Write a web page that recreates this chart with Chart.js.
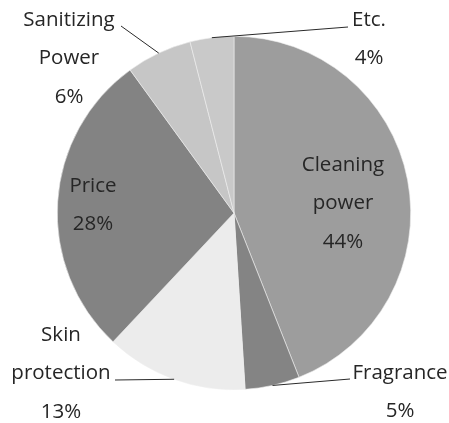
<!DOCTYPE html>
<html>
<head>
<meta charset="utf-8">
<script src="https://cdn.jsdelivr.net/npm/chart.js@4.4.1/dist/chart.umd.min.js"></script>
<style>
  html, body { margin: 0; padding: 0; background: #ffffff; }
  #wrap { width: 449px; height: 423px; }
</style>
</head>
<body>
<div id="wrap"><canvas id="pie-chart" width="449" height="423"></canvas></div>
<script>
const categories = ['Cleaning power', 'Fragrance', 'Skin protection', 'Price', 'Sanitizing Power', 'Etc.']
const shares = [44, 5, 13, 28, 6, 4]
const sliceColors = ['#9d9d9d', '#848484', '#ececec', '#838383', '#c6c6c6', '#c9c9c9']

// label text lines, placement and leader line end (null = label sits inside slice)
const labelLayout = [
  { lines: ['Cleaning', 'power'], x: 343, y: 165, line: null },
  { lines: ['Fragrance'], x: 400, y: 373, line: [350, 379] },
  { lines: ['Skin', 'protection'], x: 61, y: 335, line: [115, 380] },
  { lines: ['Price'], x: 93, y: 186, line: null },
  { lines: ['Sanitizing', 'Power'], x: 69, y: 20, line: [121, 26] },
  { lines: ['Etc.'], x: 369, y: 20, line: [348, 27] }
]

const lineGap = 38.5
const labelFont = '20.5px "Open Sans", sans-serif'

const labelPlugin = {
  id: 'sliceLabels',
  afterDatasetsDraw (chart) {
    const ctx = chart.ctx
    const arcs = chart.getDatasetMeta(0).data
    ctx.save()
    arcs.forEach((arc, i) => {
      const layout = labelLayout[i]
      const p = arc.getProps(['x', 'y', 'startAngle', 'endAngle', 'outerRadius'], true)
      if (layout.line) {
        const mid = (p.startAngle + p.endAngle) / 2
        const sx = p.x + Math.cos(mid) * p.outerRadius
        const sy = p.y + Math.sin(mid) * p.outerRadius
        ctx.strokeStyle = '#2a2a2a'
        ctx.lineWidth = 1
        ctx.beginPath()
        ctx.moveTo(sx, sy)
        ctx.lineTo(layout.line[0], layout.line[1])
        ctx.stroke()
      }
      ctx.font = labelFont
      ctx.fillStyle = '#262626'
      ctx.textAlign = 'center'
      ctx.textBaseline = 'middle'
      const texts = layout.lines.concat([shares[i] + '%'])
      texts.forEach((t, k) => {
        ctx.fillText(t, layout.x, layout.y + k * lineGap)
      })
    })
    ctx.restore()
  }
}

const chart = new Chart(document.getElementById('pie-chart'), {
  type: 'pie',
  data: {
    labels: categories,
    datasets: [{
      data: shares,
      backgroundColor: sliceColors,
      borderColor: '#eeeeee',
      borderWidth: 0.6
    }]
  },
  options: {
    responsive: false,
    animation: false,
    layout: { padding: { left: 57, right: 38, top: 36, bottom: 33 } },
    plugins: {
      legend: { display: false },
      tooltip: { enabled: false }
    }
  },
  plugins: [labelPlugin]
})
</script>
</body>
</html>
